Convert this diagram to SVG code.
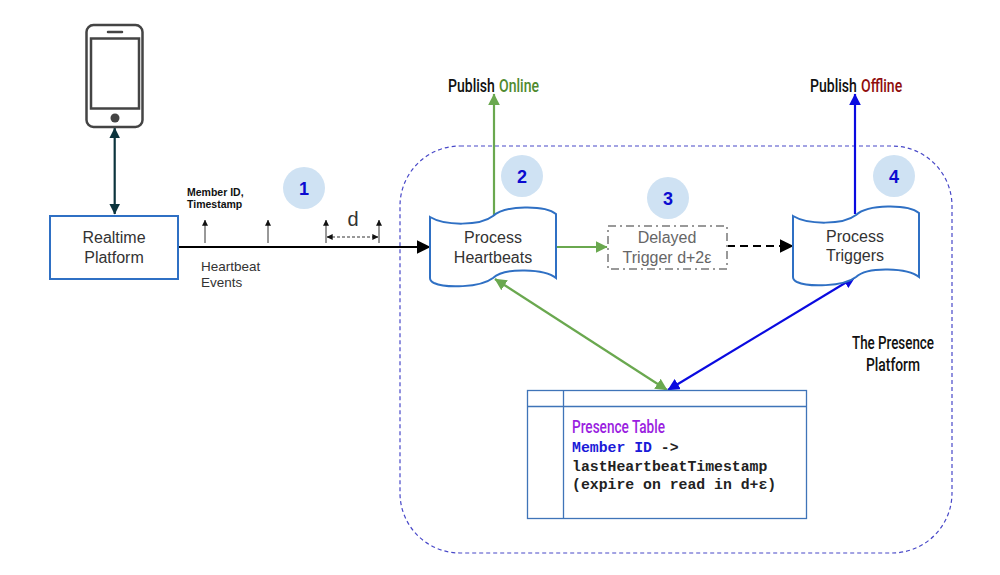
<svg xmlns="http://www.w3.org/2000/svg" width="1000" height="575" viewBox="0 0 1000 575">
<style>
text{font-family:"Liberation Sans",Arial,sans-serif;fill:#333}
.n{font-family:Roboto,"Liberation Sans",sans-serif;font-size:19px;fill:#111;font-weight:500}
.l{font-size:16px;text-anchor:middle}
.m{font-family:"Liberation Mono",monospace;font-size:14.8px;font-weight:bold;fill:#222}
.num{font-size:18px;font-weight:bold;fill:#0b0bd0;text-anchor:middle}
.badge{fill:#cfe2f3}
.nb{fill:#fff;stroke:#2f70c4;stroke-width:2}
.c{fill:none;stroke-width:2.2}
.t{fill:none;stroke:#333;stroke-width:1}
</style>
<defs>
<marker id="mb" viewBox="0 0 10 10" refX="9.5" refY="5" markerWidth="14" markerHeight="14" markerUnits="userSpaceOnUse" orient="auto-start-reverse"><path d="M0,0L10,5L0,10z" fill="#000"/></marker>
<marker id="mt" viewBox="0 0 10 10" refX="9.5" refY="5" markerWidth="11" markerHeight="11" markerUnits="userSpaceOnUse" orient="auto-start-reverse"><path d="M0,0L10,5L0,10z" fill="#0c343d"/></marker>
<marker id="mg" viewBox="0 0 10 10" refX="9.5" refY="5" markerWidth="12" markerHeight="12" markerUnits="userSpaceOnUse" orient="auto-start-reverse"><path d="M0,0L10,5L0,10z" fill="#6aa84f"/></marker>
<marker id="mu" viewBox="0 0 10 10" refX="9.5" refY="5" markerWidth="12" markerHeight="12" markerUnits="userSpaceOnUse" orient="auto-start-reverse"><path d="M0,0L10,5L0,10z" fill="#0a0ae0"/></marker>
<marker id="ms" viewBox="0 0 10 10" refX="9.5" refY="5" markerWidth="6" markerHeight="6" markerUnits="userSpaceOnUse" orient="auto-start-reverse"><path d="M0,0L10,5L0,10z" fill="#111"/></marker>
<path id="doc" d="M430,217C445,226 480,226 493,216C505,205 545,205 556,214L556,278C545,269 505,267 493,278C480,288 445,288 434,283Q430,281 430,278Z"/>
</defs>

<g id="presence-platform">
<rect x="400" y="146" width="552" height="407" rx="60" ry="60" fill="none" stroke="#4848c8" stroke-width="1.2" stroke-dasharray="4 3"/>
<text class="n" x="893" y="349" text-anchor="middle" textLength="82" lengthAdjust="spacingAndGlyphs">The Presence</text>
<text class="n" x="893" y="371" text-anchor="middle" textLength="54" lengthAdjust="spacingAndGlyphs">Platform</text>
</g>

<g id="connectors">
<path class="c" stroke="#0c343d" d="M114.7,128V214" marker-start="url(#mt)" marker-end="url(#mt)"/>
<path class="c" stroke="#000" d="M178,247H430" marker-end="url(#mb)"/>
<path class="c" stroke="#6aa84f" d="M494,216V94" marker-end="url(#mg)"/>
<path class="c" stroke="#0a0ae0" d="M855,214V94" marker-end="url(#mu)"/>
<path class="c" stroke="#6aa84f" d="M556,247H607" marker-end="url(#mg)"/>
<path class="c" stroke="#000" stroke-dasharray="8 5" d="M727,246H793" marker-end="url(#mb)"/>
<path class="c" stroke="#6aa84f" d="M495,279L667,390" marker-start="url(#mg)" marker-end="url(#mg)"/>
<path class="c" stroke="#0a0ae0" d="M855,277L668,390" marker-start="url(#mu)" marker-end="url(#mu)"/>
<path class="t" d="M205,243V220" marker-end="url(#ms)"/>
<path class="t" d="M268,243V220" marker-end="url(#ms)"/>
<path class="t" d="M326,243V220" marker-end="url(#ms)"/>
<path class="t" d="M379,243V220" marker-end="url(#ms)"/>
<path class="t" stroke-dasharray="3 2" d="M327,237H378" marker-start="url(#ms)" marker-end="url(#ms)"/>
</g>

<g id="phone" fill="none" stroke="#444">
<rect x="86.500" y="25" width="56" height="102" rx="7" stroke-width="2.500" fill="#fff"/>
<rect x="91" y="38.500" width="48" height="70" stroke-width="2.500"/>
<path d="M108,32H122" stroke-width="2.500" stroke-linecap="round"/>
<circle cx="115" cy="118" r="4.500" fill="#444" stroke="none"/>
</g>

<g id="realtime-platform">
<rect class="nb" x="50" y="216" width="128" height="63"/>
<text class="l" x="114" y="243">Realtime</text>
<text class="l" x="114" y="263">Platform</text>
</g>

<g id="event-labels">
<text x="187" y="196" font-size="10.500" font-weight="bold" style="fill:#111">Member ID,</text>
<text x="187" y="208" font-size="10.500" font-weight="bold" style="fill:#111">Timestamp</text>
<text x="201" y="271" font-size="13.500">Heartbeat</text>
<text x="201" y="287" font-size="13.500">Events</text>
<text x="353" y="226" font-size="20" text-anchor="middle">d</text>
</g>

<g id="badge-1"><circle class="badge" cx="304" cy="188" r="21"/><text class="num" x="304" y="194.500">1</text></g>
<g id="badge-2"><circle class="badge" cx="522" cy="176" r="21"/><text class="num" x="522" y="182.500">2</text></g>
<g id="badge-3"><circle class="badge" cx="668" cy="198" r="21"/><text class="num" x="668" y="204.500">3</text></g>
<g id="badge-4"><circle class="badge" cx="894" cy="176" r="21"/><text class="num" x="894" y="182.500">4</text></g>

<g id="process-heartbeats">
<use href="#doc" class="nb"/>
<text class="l" x="493" y="243">Process</text>
<text class="l" x="493" y="263">Heartbeats</text>
</g>

<g id="delayed-trigger">
<rect x="608" y="226" width="119" height="43" fill="#fff" stroke="#999" stroke-width="2" stroke-dasharray="8 4 2 4"/>
<text class="l" x="667" y="243" style="fill:#666">Delayed</text>
<text class="l" x="667" y="263" style="fill:#666">Trigger d+2ε</text>
</g>

<g id="process-triggers">
<use href="#doc" class="nb" transform="translate(363,-1)"/>
<text class="l" x="855" y="242">Process</text>
<text class="l" x="855" y="261">Triggers</text>
</g>

<g id="publish-online">
<text class="n" transform="translate(448,92) scale(.74,1)">Publish</text>
<text class="n" transform="translate(499,92) scale(.74,1)" style="fill:#4f8a2f">Online</text>
</g>
<g id="publish-offline">
<text class="n" transform="translate(810,92) scale(.74,1)">Publish</text>
<text class="n" transform="translate(861,92) scale(.74,1)" style="fill:#8f0d0d">Offline</text>
</g>

<g id="presence-table">
<rect x="527.500" y="390.500" width="279" height="128" fill="#fff" stroke="#3f74b8" stroke-width="1.300"/>
<path d="M527.500,406.500H806.500M563.500,390.500V518.500" fill="none" stroke="#3f74b8" stroke-width="1.300"/>
<text class="n" x="572" y="433" textLength="93" lengthAdjust="spacingAndGlyphs" style="fill:#9a1ee0">Presence Table</text>
<text class="m" x="572" y="452"><tspan style="fill:#1a1ad8">Member ID</tspan> -&gt;</text>
<text class="m" x="572" y="471">lastHeartbeatTimestamp</text>
<text class="m" x="572" y="489">(expire on read in d+ε)</text>
</g>
</svg>
